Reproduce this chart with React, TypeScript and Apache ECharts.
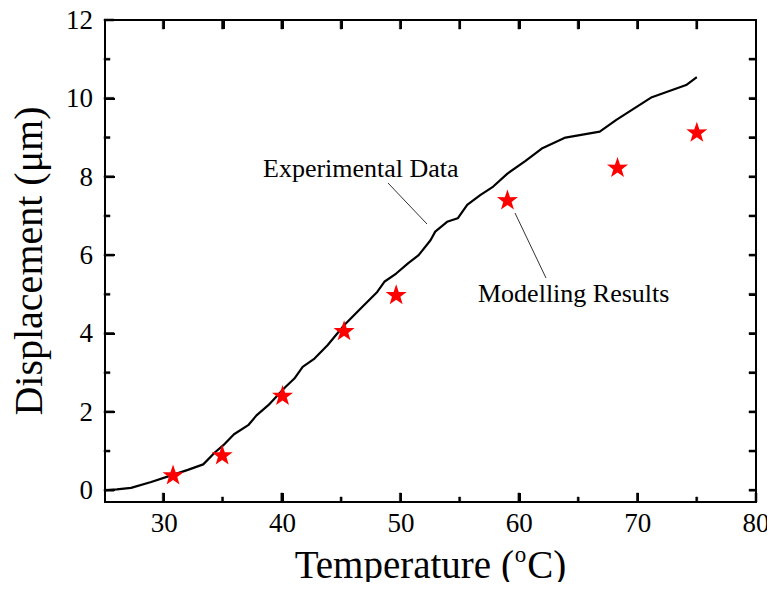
import React, { useEffect, useRef } from "react";
import * as echarts from "echarts";

const experimentalData: number[][] = [
  [25, 0.0], [26, 0.02], [27.2, 0.06], [28.9, 0.21], [30.6, 0.38], [32, 0.52],
  [33.3, 0.66], [34.3, 0.97], [35, 1.15], [35.9, 1.43], [37.1, 1.66], [37.8, 1.91],
  [38.8, 2.17], [40.2, 2.62], [41, 2.85], [41.7, 3.15], [42.7, 3.36], [43.8, 3.7],
  [45.2, 4.21], [46.6, 4.64], [48, 5.06], [48.6, 5.32], [49.6, 5.53], [50.6, 5.79],
  [51.5, 6.0], [52.5, 6.38], [52.9, 6.6], [53.9, 6.85], [54.8, 6.94], [55.6, 7.28],
  [56.7, 7.53], [57.8, 7.75], [59, 8.08], [60.5, 8.4], [61.9, 8.72], [63.9, 9.0],
  [66.8, 9.15], [68.2, 9.45], [71.2, 10.03], [74.1, 10.34], [75, 10.54],
];

const modellingResults: number[][] = [
  [30.75, 0.4], [34.9, 0.91], [40, 2.43], [45.2, 4.08], [49.6, 5.0],
  [59, 7.42], [68.3, 8.25], [75, 9.15],
];

const X_MIN = 25;
const X_MAX = 80;
const Y_MIN = -0.3;
const Y_MAX = 12;

const xMajorTicks = [30, 40, 50, 60, 70, 80];
const xMinorTicks = [35, 45, 55, 65, 75];
const xTopTicks = [30, 35, 40, 45, 50, 55, 60, 65, 70, 75];
const yMajorTicks = [0, 2, 4, 6, 8, 10, 12];
const yMinorTicks = [1, 3, 5, 7, 9, 11];
const yRightTicks = [0, 1, 2, 3, 4, 5, 6, 7, 8, 9, 10, 11];

const STAR =
  "path://M50,0 L61.8,35.1 L97.6,34.5 L69.1,56.7 L79.4,90.5 L50,70 L20.6,90.5 L30.9,56.7 L2.4,34.5 L38.2,35.1 Z";

const FONT = "'Liberation Serif', 'Times New Roman', serif";

const GRID = { left: 104, right: 19, top: 20, bottom: 88 };

export default function App() {
  const ref = useRef<HTMLDivElement>(null);
  useEffect(() => {
    if (!ref.current) return;
    const chart = echarts.init(ref.current, undefined, { renderer: "svg" });

    const annotations: any[] = [
      { type: "text", left: 263, top: 155, style: { text: "Experimental Data", fontFamily: FONT, fontSize: 26, fill: "#000" } },
      { type: "line", shape: { x1: 388, y1: 183, x2: 427, y2: 224 }, style: { stroke: "#333", lineWidth: 1 } },
      { type: "text", left: 478, top: 280, style: { text: "Modelling Results", fontFamily: FONT, fontSize: 26, fill: "#000" } },
      { type: "line", shape: { x1: 515, y1: 213, x2: 546, y2: 278 }, style: { stroke: "#333", lineWidth: 1 } },
    ];

    // tick marks as polylines in data space, converted through the axis scales
    const W = 775, H = 590;
    const plotW = W - GRID.left - GRID.right;
    const plotH = H - GRID.top - GRID.bottom;
    const sx = (v: number) => GRID.left + ((v - X_MIN) / (X_MAX - X_MIN)) * plotW;
    const sy = (v: number) => GRID.top + ((Y_MAX - v) / (Y_MAX - Y_MIN)) * plotH;
    const ticks: any[] = [];
    const pushX = (vals: number[], yv: number, dir: number, len: number) =>
      vals.forEach((v) => {
        const x = sx(v), y = sy(yv);
        ticks.push({
          type: "polygon", z: 100,
          shape: { points: [[x - 1, y], [x + 1, y], [x + 1, y + dir * len], [x - 1, y + dir * len]] },
          style: { fill: "#000", stroke: "#000", lineWidth: 0.5 },
        });
      });
    const pushY = (vals: number[], xv: number, dir: number, len: number) =>
      vals.forEach((v) => {
        const x = sx(xv), y = sy(v);
        ticks.push({
          type: "polygon", z: 100,
          shape: { points: [[x, y - 1], [x + dir * len, y - 1], [x + dir * len, y + 1], [x, y + 1]] },
          style: { fill: "#000", stroke: "#000", lineWidth: 0.5 },
        });
      });
    pushX(xMajorTicks, Y_MIN, -1, 9);
    pushX(xMinorTicks, Y_MIN, -1, 5);
    pushX(xTopTicks, Y_MAX, 1, 9);
    pushY(yMajorTicks, X_MIN, 1, 10);
    pushY(yMinorTicks, X_MIN, 1, 6);
    pushY(yRightTicks, X_MAX, -1, 7);

    const axisTickStyle = (len: number) => ({
      show: true, inside: true, length: len, lineStyle: { color: "#000", width: 2 },
    });

    chart.setOption({
      animation: false,
      backgroundColor: "#fff",
      grid: { ...GRID, show: true, borderColor: "#000", borderWidth: 2, backgroundColor: "rgba(0,0,0,0)" },
      xAxis: [
        {
          type: "value", min: X_MIN, max: X_MAX, position: "bottom",
          axisLine: { show: true, onZero: false, lineStyle: { color: "#000", width: 2 } },
          axisTick: { ...axisTickStyle(9), customValues: xMajorTicks },
          splitLine: { show: false },
          axisLabel: { customValues: xMajorTicks, color: "#000", fontFamily: FONT, fontSize: 27, margin: 7 },
          name: "Temperature ({sup|o}C)",
          nameLocation: "middle",
          nameGap: 41,
          nameTextStyle: {
            color: "#000", fontFamily: FONT, fontSize: 39,
            rich: { sup: { fontFamily: FONT, fontSize: 23, color: "#000", verticalAlign: "top", padding: [0, 1, 20, 1] } },
          },
        },
        {
          type: "value", min: X_MIN, max: X_MAX, position: "top",
          axisLine: { show: true, onZero: false, lineStyle: { color: "#000", width: 2 } },
          axisTick: { ...axisTickStyle(9), customValues: xTopTicks },
          axisLabel: { show: false },
          splitLine: { show: false },
        },
      ],
      yAxis: [
        {
          type: "value", min: Y_MIN, max: Y_MAX, position: "left",
          axisLine: { show: true, onZero: false, lineStyle: { color: "#000", width: 2 } },
          axisTick: { ...axisTickStyle(10), customValues: yMajorTicks },
          splitLine: { show: false },
          axisLabel: { customValues: yMajorTicks, color: "#000", fontFamily: FONT, fontSize: 27, margin: 12 },
          name: "Displacement (μm)",
          nameLocation: "middle",
          nameGap: 57,
          nameTextStyle: { color: "#000", fontFamily: FONT, fontSize: 40 },
        },
        {
          type: "value", min: Y_MIN, max: Y_MAX, position: "right",
          axisLine: { show: true, onZero: false, lineStyle: { color: "#000", width: 2 } },
          axisTick: { ...axisTickStyle(7), customValues: yRightTicks },
          axisLabel: { show: false },
          splitLine: { show: false },
        },
      ],
      series: [
        {
          type: "line",
          name: "Experimental Data",
          xAxisIndex: 0,
          yAxisIndex: 0,
          data: experimentalData,
          showSymbol: false,
          symbol: "none",
          smooth: false,
          lineStyle: { color: "#000", width: 2.2 },
          z: 2,
        },
        {
          type: "scatter",
          name: "Modelling Results",
          xAxisIndex: 0,
          yAxisIndex: 0,
          data: modellingResults,
          symbol: STAR,
          symbolSize: [21, 20],
          itemStyle: { color: "#ff0000", opacity: 1 },
          z: 3,
        },
      ],
      graphic: { elements: [...annotations, ...ticks] },
    });

    return () => chart.dispose();
  }, []);
  return <div ref={ref} style={{ width: 775, height: 590, margin: -8 }} />;
}
